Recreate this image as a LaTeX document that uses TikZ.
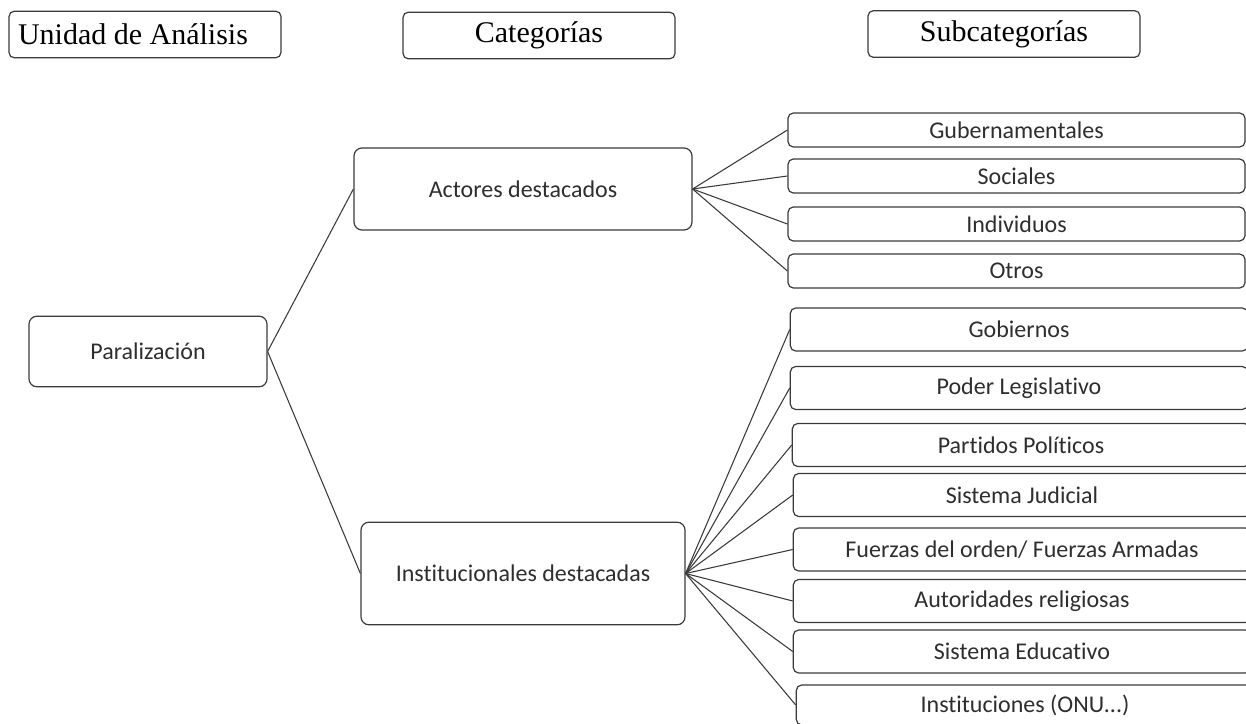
\documentclass[tikz,border=0pt]{standalone}
\usepackage{fontspec}
\setmainfont{Carlito}[Ligatures={NoCommon,NoRare,NoContextual}]
\newfontfamily\headfont{Liberation Serif}
\usepackage{tikz}

\definecolor{linegray}{HTML}{3A3A3A}
\definecolor{textgray}{HTML}{2E2E2E}

\tikzset{
  headbox/.style={draw=linegray, line width=0.9pt, rounded corners=4pt,
    minimum width=204pt, minimum height=35pt, inner sep=0pt,
    font=\headfont\fontsize{22.5}{24}\selectfont},
  catbox/.style={draw=linegray, line width=0.9pt, rounded corners=6pt,
    inner sep=0pt, text=textgray, font=\fontsize{18}{20}\selectfont},
  subbox/.style={catbox, rounded corners=4pt, minimum width=343pt},
  link/.style={draw=linegray, line width=0.8pt}
}

\begin{document}
\begin{tikzpicture}[x=0.75pt, y=-0.75pt]

  \clip (0,0) rectangle (1246,724);

  % --- Headers ---
  \node[headbox] (unidad) at (145,34.5) {Unidad de Análisis\rule{18pt}{0pt}};
  \node[headbox] (categ) at (539,35.5) {Categorías};
  \node[headbox] (subcateg) at (1004,34) {Subcategorías};

  % --- Unit and categories ---
  \node[catbox, minimum width=178.5pt, minimum height=53pt] (paral) at (148,351.5) {Paralización};
  \node[catbox, minimum width=253.5pt, minimum height=61.5pt] (actores) at (523,189) {Actores destacados};
  \node[catbox, minimum width=243pt, minimum height=77pt] (instit) at (523,573.5) {Institucionales destacadas};

  % --- Subcategories of actores ---
  \node[subbox, minimum width=342.75pt, minimum height=25.5pt] (guber) at (1016.5,130) {Gubernamentales};
  \node[subbox, minimum width=342.75pt, minimum height=25.5pt] (sociales) at (1016.5,176) {Sociales};
  \node[subbox, minimum width=342.75pt, minimum height=25.5pt] (indiv) at (1016.5,224) {Individuos};
  \node[subbox, minimum width=342.75pt, minimum height=25.5pt] (otros) at (1016.5,271) {Otros};

  % --- Subcategories of instituciones ---
  \node[subbox, minimum height=32.25pt] (gobiernos) at (1019,329.5) {Gobiernos};
  \node[subbox, minimum height=32.25pt] (poder) at (1019,388) {Poder Legislativo};
  \node[subbox, minimum height=32.25pt] (partidos) at (1021,445) {Partidos Políticos};
  \node[subbox, minimum height=32.25pt] (judicial) at (1022,495) {Sistema Judicial};
  \node[subbox, minimum height=32.25pt] (fuerzas) at (1022,549.5) {Fuerzas del orden/ Fuerzas Armadas};
  \node[subbox, minimum height=32.25pt] (autorid) at (1022,601) {Autoridades religiosas};
  \node[subbox, minimum height=32.25pt] (educ) at (1022,651.5) {Sistema Educativo};
  \node[subbox, minimum height=30pt] (onu) at (1025,705) {Instituciones (ONU...)};

  % --- Connectors ---
  \draw[link] (paral.east) -- (actores.west);
  \draw[link] (paral.east) -- (instit.west);

  \draw[link] (actores.east) -- (guber.west);
  \draw[link] (actores.east) -- (sociales.west);
  \draw[link] (actores.east) -- (indiv.west);
  \draw[link] (actores.east) -- (otros.west);

  \draw[link] (instit.east) -- (gobiernos.west);
  \draw[link] (instit.east) -- (poder.west);
  \draw[link] (instit.east) -- (partidos.west);
  \draw[link] (instit.east) -- (judicial.west);
  \draw[link] (instit.east) -- (fuerzas.west);
  \draw[link] (instit.east) -- (autorid.west);
  \draw[link] (instit.east) -- (educ.west);
  \draw[link] (instit.east) -- (onu.west);

\end{tikzpicture}
\end{document}
